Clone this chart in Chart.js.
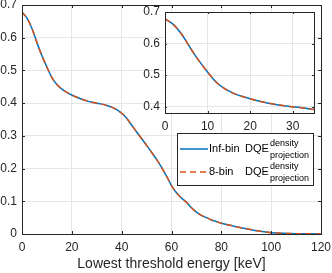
<!DOCTYPE html>
<html>
<head>
<meta charset="utf-8">
<script src="https://cdn.jsdelivr.net/npm/chart.js@4.4.0/dist/chart.umd.min.js"></script>
<style>
  html, body { margin: 0; padding: 0; background: #fff; }
  #wrap { position: relative; width: 332px; height: 273px; }
  #main { position: absolute; left: 0; top: 0; width: 332px; height: 273px; }
  #inset { position: absolute; left: 125px; top: 0; width: 192px; height: 140px; }
</style>
</head>
<body>
<div id="wrap">
  <canvas id="main" width="332" height="273"></canvas>
  <canvas id="inset" width="192" height="140"></canvas>
</div>
<script>
// ===== 資料 =====
const energy = [0, 2, 4, 6, 8, 10, 12, 14, 16, 18, 20, 22, 24, 26, 28, 30, 32, 34, 36, 38,
  40, 42, 44, 46, 48, 50, 52, 54, 56, 58, 60, 62, 64, 66, 68, 70, 72, 74, 76, 78, 80,
  85, 90, 95, 100, 105, 110, 115, 120];
const dqeInf = [0.678, 0.660, 0.628, 0.585, 0.545, 0.510, 0.478, 0.457, 0.443, 0.433, 0.425,
  0.418, 0.412, 0.407, 0.403, 0.400, 0.397, 0.393, 0.388, 0.380,
  0.369, 0.354, 0.333, 0.312, 0.292, 0.271, 0.250, 0.228, 0.204, 0.177, 0.148, 0.126, 0.110,
  0.097, 0.080, 0.067, 0.057, 0.050, 0.043, 0.038, 0.033,
  0.024, 0.016, 0.009, 0.004, 0.002, 0.001, 0.0005, 0.000];
const dqe8 = [0.678, 0.660, 0.628, 0.585, 0.545, 0.510, 0.478, 0.457, 0.443, 0.433, 0.425,
  0.418, 0.412, 0.407, 0.403, 0.400, 0.397, 0.393, 0.388, 0.380,
  0.369, 0.354, 0.333, 0.312, 0.292, 0.271, 0.250, 0.228, 0.204, 0.177, 0.148, 0.126, 0.110,
  0.097, 0.080, 0.067, 0.057, 0.050, 0.043, 0.038, 0.033,
  0.024, 0.016, 0.009, 0.004, 0.002, 0.001, 0.0005, 0.000];

const xTicks = [0, 20, 40, 60, 80, 100, 120];
const yTicks = [0, 0.1, 0.2, 0.3, 0.4, 0.5, 0.6, 0.7];
const insetXTicks = [0, 10, 20, 30];
const insetYTicks = [0.4, 0.5, 0.6, 0.7];

const legendNames = ['Inf-bin', '8-bin'];
const legendBase = 'DQE', legendSup = 'density', legendSub = 'projection';
const xLabel = 'Lowest threshold energy [keV]';

// ===== 樣式 =====
const BLUE = '#0072bd', ORANGE = '#d95319', AXIS = '#262626', GRID = '#e6e6e6';
const FONT = '"Liberation Sans", Arial, Helvetica, sans-serif';
const DASH = [6, 4];

// ===== 外框與內側刻度 =====
const boxTicks = {
  id: 'boxTicks',
  beforeDraw(c) {
    const { ctx, chartArea: a } = c;
    ctx.save(); ctx.fillStyle = '#fff';
    ctx.fillRect(a.left, a.top, a.right - a.left, a.bottom - a.top);
    ctx.restore();
  },
  afterDatasetsDraw(c, args, o) {
    const { ctx, chartArea: a, scales: { x, y } } = c;
    const L = o.len || 3;
    const al = v => Math.round(v) + 0.5;
    ctx.save();
    ctx.strokeStyle = AXIS; ctx.lineWidth = 1;
    ctx.beginPath();
    x.ticks.forEach(t => {
      const px = al(x.getPixelForValue(t.value));
      ctx.moveTo(px, a.bottom); ctx.lineTo(px, a.bottom - L);
      ctx.moveTo(px, a.top); ctx.lineTo(px, a.top + L);
    });
    y.ticks.forEach(t => {
      const py = al(y.getPixelForValue(t.value));
      ctx.moveTo(a.left, py); ctx.lineTo(a.left + L, py);
      ctx.moveTo(a.right, py); ctx.lineTo(a.right - L, py);
    });
    ctx.stroke();
    ctx.strokeRect(al(a.left), al(a.top), Math.round(a.right - a.left), Math.round(a.bottom - a.top));
    ctx.restore();
  }
};

// ===== 圖例（上下標） =====
const mathLegend = {
  id: 'mathLegend',
  afterDraw(c) {
    const ctx = c.ctx;
    const bx = 177, by = 133, bw = 136, bh = 52;
    ctx.save();
    ctx.fillStyle = '#fff';
    ctx.fillRect(bx, by, bw, bh);
    ctx.strokeStyle = AXIS; ctx.lineWidth = 1;
    ctx.strokeRect(bx + 0.5, by + 0.5, bw, bh);
    const rows = [
      { y: 149, col: BLUE, dash: [], name: legendNames[0] },
      { y: 172, col: ORANGE, dash: DASH, name: legendNames[1] }
    ];
    rows.forEach(r => {
      ctx.strokeStyle = r.col; ctx.lineWidth = 1.5; ctx.setLineDash(r.dash);
      ctx.beginPath(); ctx.moveTo(180, r.y); ctx.lineTo(208, r.y); ctx.stroke();
      ctx.setLineDash([]);
      ctx.fillStyle = '#000'; ctx.textBaseline = 'middle'; ctx.textAlign = 'left';
      ctx.font = '11px ' + FONT;
      ctx.fillText(r.name, 209, r.y);
      ctx.fillText(legendBase, 245, r.y);
      ctx.font = '9px ' + FONT;
      ctx.fillText(legendSup, 270, r.y - 5);
      ctx.fillText(legendSub, 270, r.y + 7);
    });
    ctx.restore();
  }
};

// ===== 共用 =====
const mkSeries = (vals, col, dash, ord) => ({
  data: energy.map((e, i) => ({ x: e, y: vals[i] })),
  borderColor: col, borderWidth: 1.5, borderDash: dash,
  pointRadius: 0, fill: false, cubicInterpolationMode: 'monotone', order: ord
});
const fixTicks = arr => s => { s.ticks = arr.map(v => ({ value: v })); };
const tickFont = { family: FONT, size: 12 };
const fmt1 = v => String(+(+v).toFixed(1));

// ===== 主圖 =====
new Chart(document.getElementById('main'), {
  type: 'line',
  data: { datasets: [mkSeries(dqeInf, BLUE, [], 2), mkSeries(dqe8, ORANGE, DASH, 1)] },
  options: {
    responsive: false, animation: false, events: [],
    layout: { padding: { left: 0, top: 5, right: 11, bottom: 0 } },
    plugins: { legend: { display: false }, tooltip: { enabled: false }, boxTicks: { len: 3 } },
    scales: {
      x: {
        type: 'linear', min: 0, max: 120,
        afterBuildTicks: fixTicks(xTicks),
        afterFit: s => { s.height = 39; s.paddingLeft = 0; s.paddingRight = 0; },
        grid: { color: GRID, drawTicks: false }, border: { display: false },
        ticks: { padding: 6, color: AXIS, font: tickFont, maxRotation: 0, autoSkip: false },
        title: { display: true, text: xLabel, color: AXIS, font: { family: FONT, size: 14 }, padding: { top: 0, bottom: 0 } }
      },
      y: {
        min: 0, max: 0.7,
        afterBuildTicks: fixTicks(yTicks),
        afterFit: s => { s.width = 22; s.paddingTop = 0; s.paddingBottom = 0; },
        grid: { color: GRID, drawTicks: false }, border: { display: false },
        ticks: { padding: 5, color: AXIS, font: tickFont, callback: fmt1, autoSkip: false }
      }
    }
  },
  plugins: [boxTicks, mathLegend]
});

// ===== 放大圖 =====
new Chart(document.getElementById('inset'), {
  type: 'line',
  data: { datasets: [mkSeries(dqeInf, BLUE, [], 2), mkSeries(dqe8, ORANGE, DASH, 1)] },
  options: {
    responsive: false, animation: false, events: [],
    layout: { padding: { left: 0, top: 12, right: 3, bottom: 0 } },
    plugins: { legend: { display: false }, tooltip: { enabled: false }, boxTicks: { len: 2 } },
    scales: {
      x: {
        type: 'linear', min: 0, max: 35,
        afterBuildTicks: fixTicks(insetXTicks),
        afterFit: s => { s.height = 27; s.paddingLeft = 0; s.paddingRight = 0; },
        grid: { color: GRID, drawTicks: false }, border: { display: false },
        ticks: { padding: 6, color: AXIS, font: tickFont, maxRotation: 0, autoSkip: false }
      },
      y: {
        min: 0.38, max: 0.7,
        afterBuildTicks: fixTicks(insetYTicks),
        afterFit: s => { s.width = 40; s.paddingTop = 0; s.paddingBottom = 0; },
        grid: { color: GRID, drawTicks: false }, border: { display: false },
        ticks: { padding: 5, color: AXIS, font: tickFont, callback: fmt1, autoSkip: false }
      }
    }
  },
  plugins: [boxTicks]
});
</script>
</body>
</html>
